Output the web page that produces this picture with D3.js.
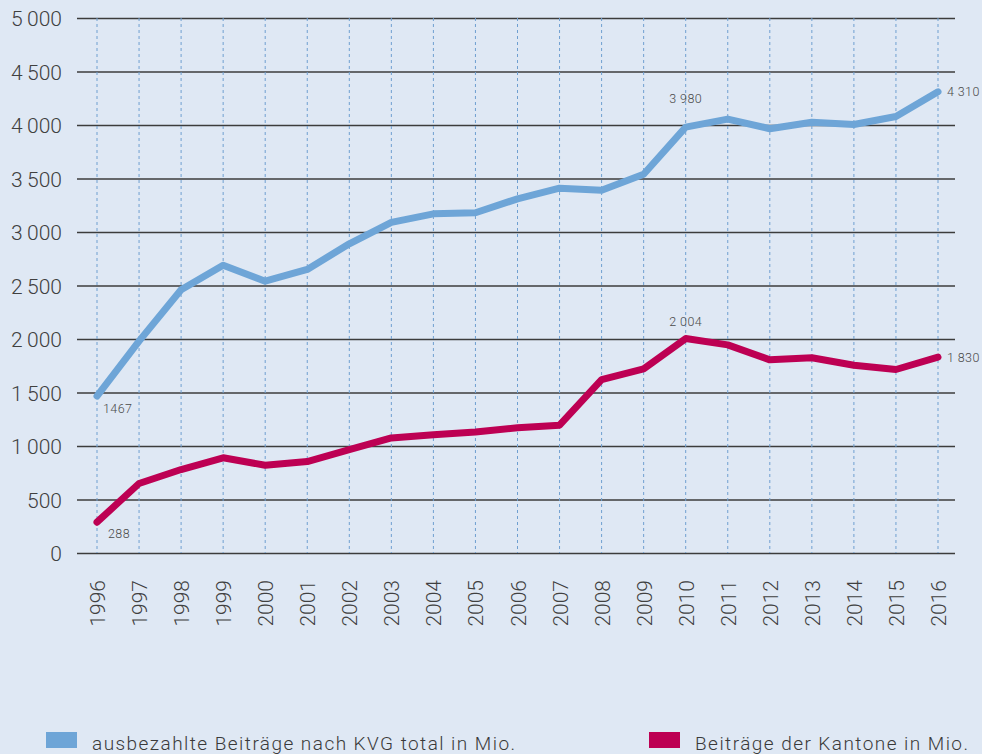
<!DOCTYPE html>
<html><head><meta charset="utf-8">
<script src="https://cdn.jsdelivr.net/npm/d3@7"></script>
<style>
html,body{margin:0;padding:0;background:#dfe8f4;}
svg{display:block;font-family:Roboto,"Noto Sans",sans-serif;font-weight:300;}
</style></head>
<body>
<svg id="c" width="982" height="754"></svg>
<script>
const years = [1996,1997,1998,1999,2000,2001,2002,2003,2004,2005,2006,2007,2008,2009,2010,2011,2012,2013,2014,2015,2016];
const kvgTotal = [1467,1980,2460,2690,2540,2650,2890,3090,3170,3180,3310,3410,3390,3540,3980,4055,3965,4025,4005,4080,4310];
const kantone = [288,650,780,890,820,855,965,1075,1105,1130,1170,1195,1620,1720,2004,1945,1805,1825,1755,1715,1830];
const yTicks = [0,500,1000,1500,2000,2500,3000,3500,4000,4500,5000];
const seriesNames = ["ausbezahlte Beiträge nach KVG total in Mio.","Beiträge der Kantone in Mio."];
const colors = ["#6ea5d7","#bd0053"];
const labels = [
  {s:0, i:0, text:"1467", dx:6, dy:17, anchor:"start"},
  {s:0, i:14, text:"3 980", dx:0, dy:-24, anchor:"middle"},
  {s:0, i:20, text:"4 310", dx:9, dy:4, anchor:"start"},
  {s:1, i:0, text:"288", dx:11, dy:15.5, anchor:"start"},
  {s:1, i:14, text:"2 004", dx:0, dy:-12.5, anchor:"middle"},
  {s:1, i:20, text:"1 830", dx:9, dy:4.5, anchor:"start"}
];

const svg = d3.select("#c");
const x = d3.scalePoint().domain(years).range([97,938]);
const y = d3.scaleLinear().domain([0,5000]).range([553,18]);
const fmt = v => v >= 1000 ? d3.format(",")(v).replace(/,/g,"\u2009") : String(v);

// horizontal gridlines + y labels
const yAxis = d3.axisLeft(y).tickValues(yTicks).tickFormat(fmt).tickSize(-878).tickPadding(15);
const gy = svg.append("g").attr("transform","translate(77,0)").call(yAxis);
gy.select(".domain").remove();
gy.selectAll(".tick line").attr("stroke","#3c3c3c").attr("stroke-width",1.6);
gy.selectAll(".tick text").attr("fill","#404040").attr("dy","0.36em").style("font-size","21px").style("font-family","Roboto").style("font-weight","300");

// vertical dashed lines
svg.append("g").selectAll("line").data(years).join("line")
  .attr("x1",d=>x(d)).attr("x2",d=>x(d)).attr("y1",y(5000)).attr("y2",y(0))
  .attr("stroke","#6f9fd0").attr("stroke-width",1).attr("stroke-dasharray","3,3");

// x axis labels
const xAxis = d3.axisBottom(x).tickSize(0).tickPadding(0);
const gx = svg.append("g").attr("transform","translate(0,553)").call(xAxis);
gx.select(".domain").remove();
gx.selectAll(".tick text").attr("transform","translate(7.5,27) rotate(-90)").attr("text-anchor","end").attr("dy","0")
  .attr("fill","#404040").style("font-size","21px").style("font-family","Roboto").style("font-weight","300");

// lines
const line = d3.line().x((d,i)=>x(years[i])).y(d=>y(d));
[kvgTotal,kantone].forEach((vals,s)=>{
  svg.append("path").datum(vals).attr("d",line).attr("fill","none")
    .attr("stroke",colors[s]).attr("stroke-width",7).attr("stroke-linejoin","round").attr("stroke-linecap","round");
});

// annotations
const data = [kvgTotal,kantone];
svg.append("g").selectAll("text").data(labels).join("text")
  .attr("x",d=> x(years[d.i])+d.dx)
  .attr("y",d=> y(data[d.s][d.i])+d.dy)
  .attr("text-anchor",d=>d.anchor)
  .attr("fill","#4a4a4a").style("font-size","12.5px").style("letter-spacing","0.4px")
  .text(d=>d.text);

// legend
const lg = [{x:46,tx:92},{x:649,tx:695}];
seriesNames.forEach((n,s)=>{
  svg.append("rect").attr("x",lg[s].x).attr("y",732).attr("width",31).attr("height",16).attr("fill",colors[s]);
  svg.append("text").attr("x",lg[s].tx).attr("y",750).attr("fill","#3a3a3a").style("font-size","19px").style("letter-spacing","1.45px").text(n);
});
</script>
</body></html>
